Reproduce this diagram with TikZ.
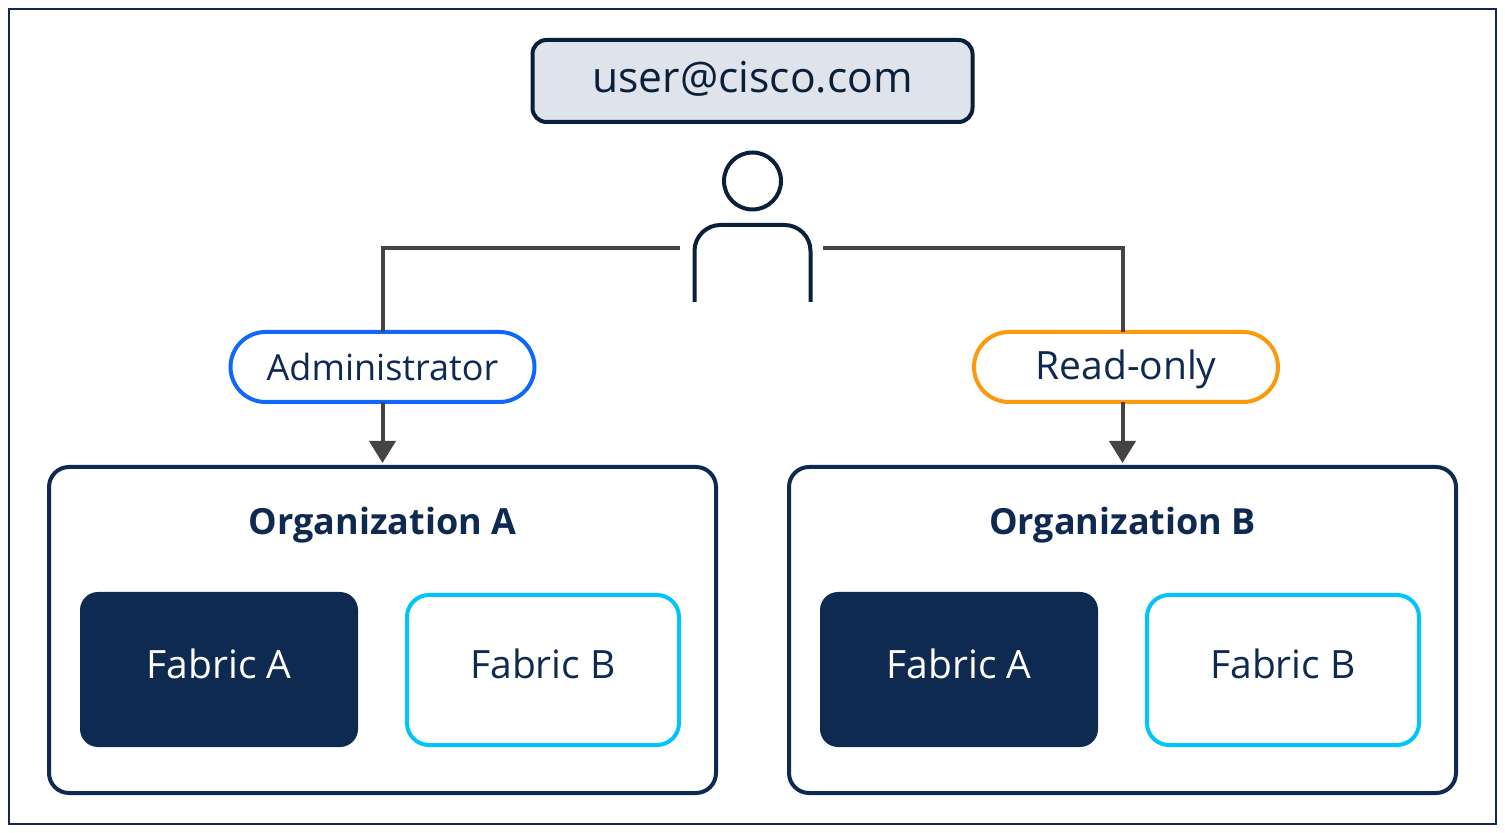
\documentclass[tikz,border=0pt]{standalone}
\usepackage{fontspec}
\setmainfont{Open Sans}
\usetikzlibrary {arrows.meta, positioning}
\definecolor{navy}{HTML}{0F2A50}
\definecolor{ink}{HTML}{0A1F3A}
\definecolor{wire}{HTML}{444444}
\definecolor{mist}{HTML}{DFE3EB}
\definecolor{rolea}{HTML}{1068FA}
\definecolor{roleb}{HTML}{FB9A0E}
\definecolor{cyanline}{HTML}{00C4FA}

\begin{document}
\begin{tikzpicture}[x=.5pt,y=-.5pt,on grid,outer sep=0pt,>={Triangle[length=11pt,width=13pt]},
      email/.style={draw=ink,fill=mist,line width=2pt,rounded corners=7pt,minimum width=220pt,minimum height=41pt,text height=15.5pt,text depth=3.5pt,font=\fontsize{21.3}{26}\selectfont,text=ink},
      role/.style={line width=2pt,rounded corners=17.5pt,minimum width=152pt,minimum height=35pt,fill=white,text height=15pt,text depth=2pt,font=\fontsize{18}{22}\selectfont,text=navy},
      org/.style={draw=navy,line width=2pt,rounded corners=10pt,minimum width=333.5pt,minimum height=163pt},
      orgname/.style={font=\fontsize{18}{22}\selectfont\bfseries,text=navy},
      fabfill/.style={fill=navy,text=white,rounded corners=9pt,minimum width=139pt,minimum height=77.5pt,text height=15pt,text depth=5.5pt,font=\fontsize{19.5}{24}\selectfont},
      fabline/.style={draw=cyanline,line width=2pt,text=navy,rounded corners=11pt,minimum width=136pt,minimum height=75pt,text height=15pt,text depth=6pt,font=\fontsize{19.5}{24}\selectfont},
      wireline/.style={draw=wire,line width=2pt},
      person/.style={draw=ink,line width=2pt}]
      \path[use as bounding box] (0,0) rectangle (1505,833);
      \draw[navy,line width=1pt] (9,9) rectangle (1496,824);

      \node[email] (mail) at (752.5,81) {user@cisco.com};

      % person
      \node[person,circle,minimum size=28.5pt] (head) at (752.5,181) {};
      \draw[person,rounded corners=13pt] (694.5,302) -- (694.5,225) -- (810.5,225) -- (810.5,302);
      \coordinate (armL) at (680,248);
      \coordinate (armR) at (823,248);

      % organizations
      \node[org] (orgA) at (382.5,630) {};
      \node[org] (orgB) [right=370pt of orgA] {};
      \node[orgname] (nameA) at (382.5,525) {Organization A};
      \node[orgname] (nameB) [right=370pt of nameA] {Organization B};

      \node[fabfill] (fabA1) at (219,669.5) {Fabric A};
      \node[fabline] (fabB1) at (543,670) {Fabric B};
      \node[fabfill] (fabA2) [right=370pt of fabA1] {Fabric A};
      \node[fabline] (fabB2) [right=370pt of fabB1] {Fabric B};

      % roles
      \node[role,draw=rolea,text depth=1pt] (admin) at (382.5,367) {Administrator};
      \node[role,draw=roleb,font=\fontsize{19.5}{24}\selectfont] (readonly) at (1126,367) {Read-only};

      \draw[wireline] (armL) -| (admin);
      \draw[wireline] (armR) -| (readonly.north -| orgB);
      \draw[wireline,->,shorten >=2pt] (admin) -- (orgA.north);
      \draw[wireline,->,shorten >=2pt] (readonly.south -| orgB) -- (orgB.north);
    \end{tikzpicture}
\end{document}
